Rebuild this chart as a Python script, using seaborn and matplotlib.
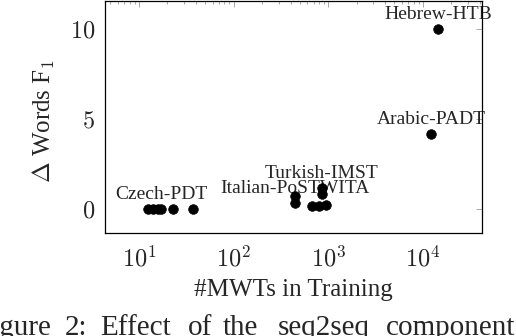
import matplotlib
matplotlib.use('Agg')
import matplotlib.pyplot as plt
import seaborn as sns
import pandas as pd
from matplotlib.ticker import LogLocator, NullFormatter, FixedLocator

# data
mwts = [12.4, 14.1, 15.9, 17.1, 22.9, 37, 449, 449, 676, 795, 935, 858, 858, 12150, 14500]
delta_f1 = [0, 0, 0, 0, 0, 0, 0.76, 0.33, 0.18, 0.18, 0.24, 1.17, 0.82, 4.17, 10.0]
point_labels = ['', '', '', 'Czech-PDT', '', '', '', 'Italian-PoSTWITA', '', '', '',
                'Turkish-IMST', '', 'Arabic-PADT', 'Hebrew-HTB']
x_ticks = [10, 100, 1000, 10000]
x_tick_labels = [r'$10^{1}$', r'$10^{2}$', r'$10^{3}$', r'$10^{4}$']
y_ticks = [0, 5, 10]
y_tick_labels = [r'$0$', r'$5$', r'$10$']
caption_words = ['Figure', '2:', 'Effect', 'of', 'the', 'seq2seq', 'component']
caption_x = [-25, 65, 100, 188, 223, 278, 386]

df = pd.DataFrame({'mwts': mwts, 'delta': delta_f1, 'label': point_labels})

sns.set_style("white")
plt.rcParams['font.family'] = ['Liberation Serif', 'DejaVu Serif']
plt.rcParams['mathtext.fontset'] = 'cm'

fig = plt.figure(figsize=(5.16, 3.36), dpi=100)
ax = fig.add_axes([105 / 516, 1 - 233 / 336, 377 / 516, 232 / 336])

sns.scatterplot(data=df, x='mwts', y='delta', color='black', s=48,
                edgecolor='black', linewidth=0.5, ax=ax, legend=False, zorder=3)
ax.set_xscale('log')
ax.set_xlim(4.38, 42000)
ax.set_ylim(-1.32, 11.57)

for _, row in df[df['label'] != ''].iterrows():
    ax.annotate(row['label'], (row['mwts'], row['delta']), xytext=(0, 7.5),
                textcoords='offset points', ha='center', va='baseline',
                fontsize=14, zorder=2)

ax.xaxis.set_major_locator(FixedLocator(x_ticks))
ax.set_xticklabels(x_tick_labels)
ax.xaxis.set_minor_locator(LogLocator(base=10, subs=range(2, 10), numticks=20))
ax.xaxis.set_minor_formatter(NullFormatter())
ax.set_yticks(y_ticks)
ax.set_yticklabels(y_tick_labels)

ax.tick_params(which='both', direction='in', top=True, right=True,
               color='0.6', width=0.6)
ax.tick_params(which='major', length=4.5, labelsize=17.5)
ax.tick_params(axis='x', which='major', pad=9)
ax.tick_params(axis='y', which='major', pad=7)
ax.tick_params(which='minor', length=2.3)
for sp in ax.spines.values():
    sp.set_color('black')
    sp.set_linewidth(0.9)

ax.set_xlabel('#MWTs in Training', fontsize=18)
ax.set_ylabel(r'$\Delta$ Words F$_1$', fontsize=18)
ax.xaxis.set_label_coords(0.5, -0.2)
ax.yaxis.set_label_coords(-0.127, 0.483)

for word, px in zip(caption_words, caption_x):
    fig.text(px / 516, 1 / 336, word, fontsize=21, ha='left', va='baseline')

fig.savefig('out.png', dpi=100)
